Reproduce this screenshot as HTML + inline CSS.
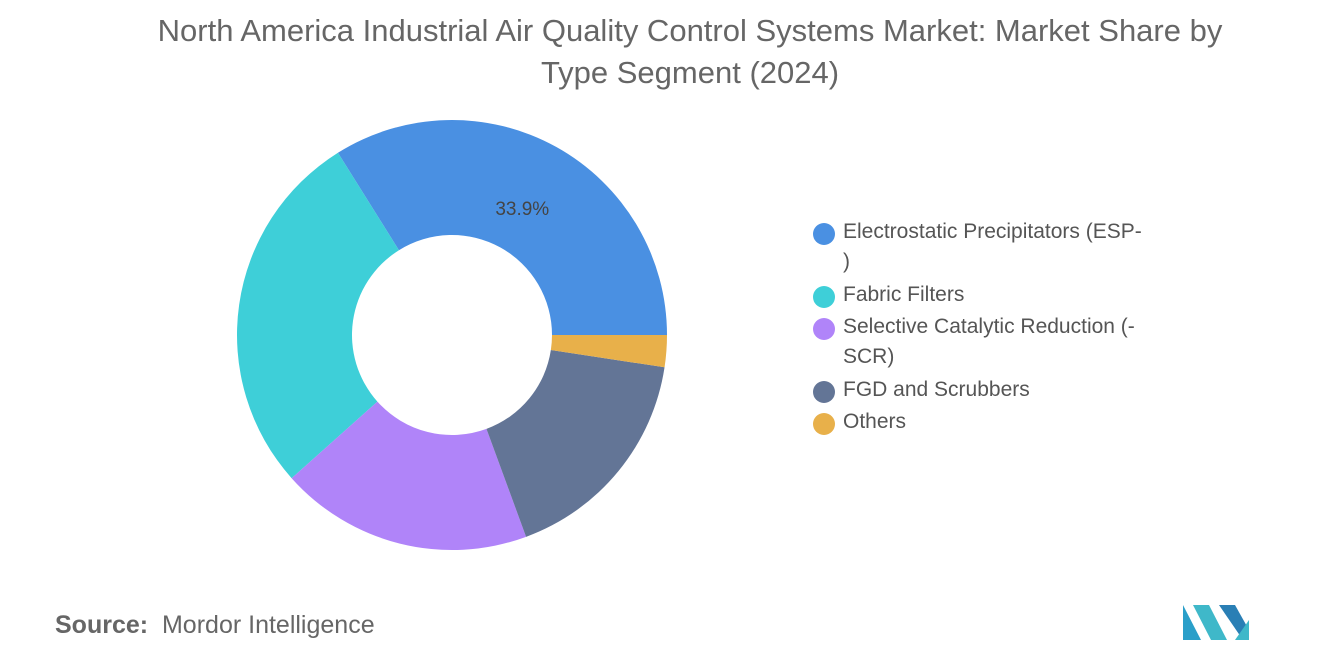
<!DOCTYPE html>
<html><head><meta charset="utf-8"><style>
body{margin:0;width:1320px;height:665px;background:#fff;font-family:"Liberation Sans",sans-serif;overflow:hidden;position:relative}
#title{position:absolute;left:0;width:1380px;top:10px;text-align:center;font-size:31px;color:#666;line-height:42px}
.leg{position:absolute;left:813px;font-size:21px;color:#555;line-height:30px}
.leg span.dot{position:absolute;left:0;top:6px;width:22px;height:22px;border-radius:50%}
.leg span.t{display:block;margin-left:30px;width:360px}
#source{position:absolute;left:55px;top:611px;font-size:25px;color:#666}
</style></head><body>
<div id="title">North America Industrial Air Quality Control Systems Market: Market Share by<br>Type Segment (2024)</div>
<svg id="chart" width="1320" height="665" style="position:absolute;left:0;top:0"></svg>
<div class="leg" style="top:217px"><span class="dot" style="background:#4a90e2"></span><span class="t">Electrostatic Precipitators (ESP-<br>)</span></div>
<div class="leg" style="top:280px"><span class="dot" style="background:#3ecfd8"></span><span class="t">Fabric Filters</span></div>
<div class="leg" style="top:312px"><span class="dot" style="background:#b084f9"></span><span class="t">Selective Catalytic Reduction (-<br>SCR)</span></div>
<div class="leg" style="top:375px"><span class="dot" style="background:#637596"></span><span class="t">FGD and Scrubbers</span></div>
<div class="leg" style="top:407px"><span class="dot" style="background:#e8b04a"></span><span class="t">Others</span></div>
<div id="source"><b style="font-weight:600">Source:</b>&nbsp; Mordor Intelligence</div>
<svg width="70" height="45" style="position:absolute;left:1183px;top:600px">
<polygon points="0,40 0,5 18,40" fill="#2a9fc9"/><polygon points="10,5 26,5 44,40 28,40" fill="#3fb8c9"/><polygon points="36,5 52,5 66,30 66,40 60,40" fill="#2a7fb5"/><polygon points="52,40 66,40 66,20" fill="#3fb8c9"/></svg>
<script>
const categories=["Electrostatic Precipitators (ESP)","Fabric Filters","Selective Catalytic Reduction (SCR)","FGD and Scrubbers","Others"];
const values=[33.9,27.7,19.0,17.0,2.4];
const colors=["#4a90e2","#3ecfd8","#b084f9","#637596","#e8b04a"];
const labels=["33.9%","","","",""];
const svg=document.getElementById('chart');
const cx=452,cy=335,R=215,r=100,NS="http://www.w3.org/2000/svg";
const total=values.reduce((a,b)=>a+b,0);
let a=0;
function pt(ang,rad){return [cx+rad*Math.cos(ang),cy-rad*Math.sin(ang)];}
values.forEach((v,i)=>{
  const sweep=v/total*2*Math.PI,a2=a+sweep,large=sweep>Math.PI?1:0;
  const [x1,y1]=pt(a,R),[x2,y2]=pt(a2,R),[x3,y3]=pt(a2,r),[x4,y4]=pt(a,r);
  const p=document.createElementNS(NS,'path');
  p.setAttribute('d',`M${x1},${y1} A${R},${R} 0 ${large} 0 ${x2},${y2} L${x3},${y3} A${r},${r} 0 ${large} 1 ${x4},${y4} Z`);
  p.setAttribute('fill',colors[i]);
  
  
  svg.appendChild(p);
  if(labels[i]){
    const [lx,ly]=pt(a+sweep/2,145);
    const t=document.createElementNS(NS,'text');
    t.setAttribute('x',lx);t.setAttribute('y',ly+7);t.setAttribute('text-anchor','middle');
    t.setAttribute('font-size','19');t.setAttribute('fill','#444');t.setAttribute('font-family','Liberation Sans, sans-serif');
    t.textContent=labels[i];
    
    
    svg.appendChild(t);
  }
  a=a2;
});
</script>
</body></html>
